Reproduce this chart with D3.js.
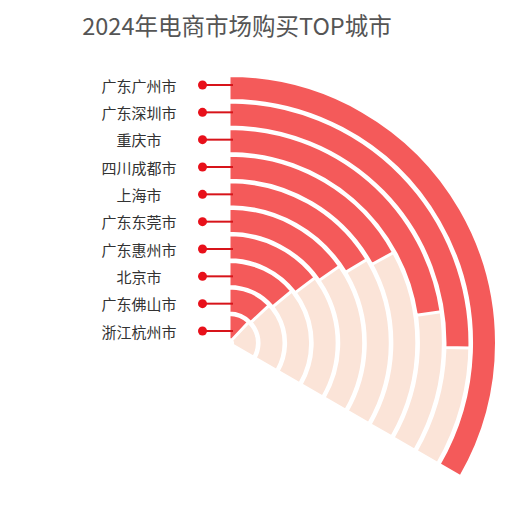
<!DOCTYPE html>
<html>
<head>
<meta charset="utf-8">
<script src="https://cdn.jsdelivr.net/npm/d3@7/dist/d3.min.js"></script>
<style>
  html, body { margin: 0; padding: 0; background: #fff; }
  svg { display: block; }
  text { font-family: "Noto Sans CJK SC", "Noto Sans", sans-serif; }
</style>
</head>
<body>
<svg id="chart" width="513" height="511"></svg>
<script>
const title = "2024年电商市场购买TOP城市";
const cities = ["广东广州市", "广东深圳市", "重庆市", "四川成都市", "上海市",
                "广东东莞市", "广东惠州市", "北京市", "广东佛山市", "浙江杭州市"];
const values = [100, 76, 68, 51, 49, 46, 44, 42, 39, 36];
const maxValue = 100;

const svg = d3.select("#chart");
const cx = 229, cy = 343;

svg.append("text")
  .attr("x", 237).attr("y", 25)
  .attr("text-anchor", "middle")
  .attr("dominant-baseline", "central")
  .attr("font-size", 23.5)
  .attr("fill", "#555")
  .text(title);

// radial band: innermost = last city
const r = d3.scaleBand()
  .domain(cities.slice().reverse())
  .range([2.7, 268.3])
  .paddingInner(0.06)
  .paddingOuter(0.03);

const angle = d3.scaleLinear().domain([0, maxValue]).range([0, 2 * Math.PI / 3]);

const arc = d3.arc()
  .innerRadius(d => r(d.city))
  .outerRadius(d => r(d.city) + r.bandwidth())
  .startAngle(0)
  .endAngle(d => angle(d.value));

const g = svg.append("g").attr("transform", `translate(${cx},${cy})`);

const data = cities.map((c, i) => ({ city: c, value: values[i] }));

g.selectAll("path.bg").data(data).join("path")
  .attr("class", "bg")
  .attr("d", d => arc({ city: d.city, value: maxValue }))
  .attr("fill", "#fbe4d8")
  .attr("stroke", "#fff")
  .attr("stroke-width", 3);

g.selectAll("path.bar").data(data).join("path")
  .attr("class", "bar")
  .attr("d", arc)
  .attr("fill", "#f45a5a")
  .attr("stroke", "#fff")
  .attr("stroke-width", 3);

// left category labels
const y = d3.scalePoint().domain(cities).range([85, 331]);

const lab = svg.append("g");
lab.selectAll("line").data(cities).join("line")
  .attr("x1", 202).attr("x2", 233)
  .attr("y1", d => y(d)).attr("y2", d => y(d))
  .attr("stroke", "#d7141a").attr("stroke-width", 2);
lab.selectAll("circle").data(cities).join("circle")
  .attr("cx", 202.5).attr("cy", d => y(d)).attr("r", 4.5)
  .attr("fill", "#e8101a");
lab.selectAll("text").data(cities).join("text")
  .attr("x", 139).attr("y", d => y(d))
  .attr("text-anchor", "middle")
  .attr("dominant-baseline", "central")
  .attr("font-size", 15)
  .attr("fill", "#333")
  .text(d => d);
</script>
</body>
</html>
